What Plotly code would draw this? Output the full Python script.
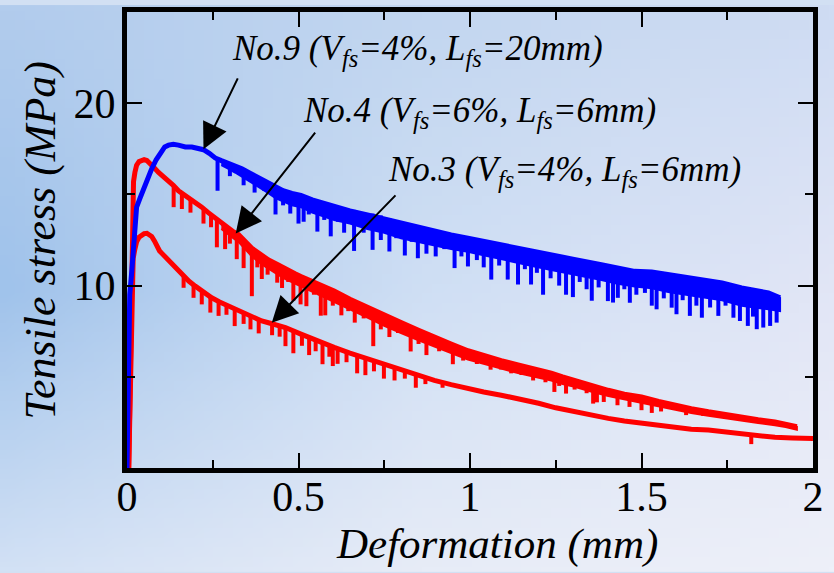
import plotly.graph_objects as go
import numpy as np
import zlib, struct, base64

# ---------------- data ----------------
# No.9 (blue) upper trace
n9_x = [0, 0.002, 0.004, 0.008, 0.014, 0.02, 0.028, 0.038, 0.048, 0.06, 0.072, 0.085, 0.097, 0.11,
        0.121, 0.135, 0.15, 0.17, 0.189, 0.205, 0.223, 0.24, 0.257, 0.275, 0.296, 0.315, 0.335,
        0.36, 0.384, 0.41, 0.433, 0.455, 0.481, 0.507, 0.54, 0.604, 0.65, 0.701, 0.75, 0.799,
        0.85, 0.896, 0.945, 0.994, 1.04, 1.091, 1.14, 1.188, 1.237, 1.3, 1.383, 1.43, 1.48,
        1.53, 1.578, 1.63, 1.676, 1.735, 1.792, 1.83, 1.87, 1.904]
n9_y = [0, 3, 7.5, 9.5, 10.8, 12.5, 14.3, 14.8, 15.3, 15.9, 16.4, 16.9, 17.3, 17.6,
        17.7, 17.75, 17.7, 17.6, 17.6, 17.5, 17.45, 17.25, 17.0, 16.85, 16.7, 16.55, 16.4,
        16.15, 15.9, 15.65, 15.4, 15.2, 15.05, 14.95, 14.7, 14.32, 14.1, 13.87, 13.65, 13.41,
        13.2, 12.96, 12.78, 12.6, 12.42, 12.24, 12.05, 11.87, 11.69, 11.45, 11.15, 10.95, 10.78,
        10.75, 10.6, 10.48, 10.33, 10.15, 9.87, 9.72, 9.6, 9.33]
# lower edge of the dense (solid-looking) part of the No.9 band, for the last points of n9_x
n9_lo = [16.6, 16.4, 16.2, 16.0, 15.7, 15.4, 15.1, 14.8, 14.6, 14.4,
         14.3, 14.0, 13.6, 13.4, 13.1, 12.9, 12.6, 12.4, 12.2, 12.0,
         11.85, 11.65, 11.45, 11.25, 11.05, 10.85, 10.6, 10.3, 10.1, 9.95,
         9.85, 9.65, 9.5, 9.35, 9.2, 8.9, 8.8, 8.7, 8.6]
# No.9 load drops: x, top, bottom
n9_dx = [0.264, 0.30, 0.34, 0.372, 0.40, 0.433, 0.455, 0.476, 0.50, 0.515, 0.53, 0.555, 0.575,
         0.594, 0.615, 0.633, 0.662, 0.69, 0.716, 0.74, 0.765, 0.785, 0.81, 0.83, 0.848, 0.873,
         0.90, 0.925, 0.955, 0.975, 0.994, 1.02, 1.04, 1.062, 1.085, 1.11, 1.14, 1.16, 1.178,
         1.195, 1.213, 1.235, 1.26, 1.28, 1.30, 1.32, 1.34, 1.355, 1.375, 1.402, 1.417, 1.431,
         1.45, 1.466, 1.485, 1.51, 1.53, 1.544, 1.565, 1.588, 1.602, 1.62, 1.641, 1.66, 1.676,
         1.70, 1.724, 1.745, 1.768, 1.787, 1.81, 1.825, 1.836, 1.855, 1.875, 1.894]
n9_dt = [17.0, 16.7, 16.35, 16.0, 15.8, 15.4, 15.2, 15.05, 14.95, 14.9, 14.8, 14.65, 14.55,
         14.45, 14.35, 14.27, 14.15, 14.0, 13.95, 13.85, 13.7, 13.5, 13.4, 13.3, 13.2, 13.05,
         12.95, 12.85, 12.75, 12.65, 12.6, 12.5, 12.4, 12.35, 12.25, 12.15, 12.05, 11.95, 11.9,
         11.85, 11.8, 11.7, 11.6, 11.5, 11.45, 11.35, 11.25, 11.2, 11.15, 11.05, 11.0, 10.95,
         10.9, 10.85, 10.78, 10.78, 10.75, 10.7, 10.65, 10.6, 10.55, 10.5, 10.45, 10.4, 10.33,
         10.25, 10.2, 10.1, 10.0, 9.9, 9.8, 9.75, 9.7, 9.65, 9.6, 9.45]
n9_db = [15.2, 16.0, 15.5, 15.1, 15.2, 13.9, 14.4, 13.95, 13.4, 13.5, 13.9, 12.96, 13.6,
         12.7, 13.5, 12.9, 11.9, 12.9, 11.96, 12.5, 11.87, 12.6, 11.65, 12.4, 11.5, 11.75,
         11.6, 12.0, 10.96, 11.6, 11.05, 11.4, 11.0, 10.33, 11.1, 10.33, 10.06, 10.9, 10.06,
         10.7, 9.5, 10.4, 10.0, 9.5, 9.37, 10.2, 9.8, 9.17, 9.9, 9.15, 9.07, 9.33,
         9.8, 9.06, 9.5, 9.6, 8.9, 8.7, 9.3, 8.79, 8.43, 9.2, 8.34, 8.9, 8.24,
         8.8, 8.34, 8.9, 8.24, 8.06, 7.79, 8.3, 7.61, 7.7, 7.79, 7.97]

# No.4 (red, upper red curve)
n4_x = [0.005, 0.008, 0.012, 0.014, 0.016, 0.019, 0.023, 0.028, 0.035, 0.043, 0.05, 0.058, 0.065,
        0.072, 0.082, 0.092, 0.105, 0.121, 0.135, 0.15, 0.165, 0.179, 0.2, 0.218, 0.237, 0.257,
        0.275, 0.296, 0.31, 0.325, 0.345, 0.364, 0.39, 0.413, 0.44, 0.462, 0.49, 0.507, 0.52,
        0.559, 0.604, 0.65, 0.701, 0.75, 0.799, 0.85, 0.896, 0.945, 0.994, 1.04, 1.091, 1.14,
        1.188, 1.237, 1.27, 1.305, 1.35, 1.403, 1.45, 1.5, 1.55, 1.597, 1.645, 1.695, 1.745,
        1.792, 1.84, 1.889, 1.92, 1.953]
n4_y = [0, 4, 9, 12.96, 14.5, 15.7, 16.2, 16.6, 16.8, 16.86, 16.9, 16.86, 16.75,
        16.6, 16.4, 16.2, 16.0, 15.77, 15.5, 15.2, 15.0, 14.86, 14.6, 14.3, 14.0, 13.7,
        13.4, 13.1, 12.95, 12.8, 12.4, 12.05, 11.7, 11.4, 11.15, 10.9, 10.65, 10.5, 10.4,
        10.07, 9.7, 9.25, 8.79, 8.35, 7.97, 7.55, 7.16, 6.8, 6.43, 6.15, 5.89, 5.65,
        5.44, 5.2, 5.0, 4.8, 4.55, 4.26, 4.05, 3.9, 3.65, 3.44, 3.25, 3.08, 2.92,
        2.77, 2.65, 2.53, 2.42, 2.26]
# lower edge of the dense part of the No.4 band, for the last points of n4_x
n4_lo = [13.1, 12.8, 12.6, 12.4, 12.0, 11.6, 11.2, 10.9, 10.6, 10.35,
         10.1, 9.95, 9.85, 9.5, 9.1, 8.7, 8.25, 7.8, 7.4, 7.0,
         6.65, 6.3, 5.95, 5.7, 5.45, 5.2, 5.0, 4.8, 4.6, 4.45,
         4.2, 3.95, 3.75, 3.6, 3.38, 3.2, 3.02, 2.86, 2.72, 2.58,
         2.46, 2.35, 2.25, 2.1]
n4_dx = [0.136, 0.16, 0.185, 0.223, 0.245, 0.262, 0.286, 0.30, 0.32, 0.34, 0.364, 0.38, 0.393,
         0.41, 0.438, 0.452, 0.47, 0.485, 0.506, 0.523, 0.545, 0.565, 0.578, 0.60, 0.625, 0.645,
         0.664, 0.69, 0.718, 0.74, 0.765, 0.79, 0.827, 0.85, 0.873, 0.91, 0.95, 0.98, 1.02,
         1.06, 1.09, 1.12, 1.15, 1.184, 1.22, 1.246, 1.26, 1.28, 1.305, 1.34, 1.359, 1.37,
         1.39, 1.43, 1.465, 1.5, 1.53, 1.557, 1.63, 1.68]
n4_dt = [15.45, 15.1, 14.8, 14.25, 13.9, 13.6, 13.25, 13.05, 12.85, 12.5, 12.05, 11.85, 11.65,
         11.45, 11.15, 11.0, 10.85, 10.7, 10.5, 10.35, 10.2, 10.0, 9.9, 9.72, 9.5, 9.3,
         9.1, 8.9, 8.65, 8.45, 8.25, 8.05, 7.75, 7.55, 7.35, 7.05, 6.75, 6.55, 6.3,
         6.05, 5.9, 5.75, 5.6, 5.45, 5.3, 5.15, 5.07, 4.95, 4.8, 4.6, 4.5, 4.45,
         4.33, 4.15, 4.0, 3.9, 3.75, 3.62, 3.3, 3.13]
n4_db = [14.3, 14.2, 14.0, 13.4, 13.2, 12.1, 12.0, 12.3, 11.45, 10.96, 9.42, 11.0, 10.36,
         10.6, 10.16, 9.87, 10.2, 9.17, 8.97, 8.87, 9.5, 8.35, 8.37, 8.9, 8.37, 8.6,
         7.97, 8.2, 6.68, 7.6, 7.18, 7.4, 6.39, 6.8, 6.19, 6.4, 5.69, 5.89, 5.7,
         5.39, 5.4, 5.19, 5.1, 4.80, 4.7, 4.17, 4.5, 4.08, 4.3, 4.1, 3.53, 3.6,
         3.62, 3.44, 3.35, 3.17, 3.02, 3.1, 2.9, 2.85]

# No.3 (red, lower red curve)
n3_x = [0.005, 0.008, 0.011, 0.014, 0.018, 0.023, 0.028, 0.035, 0.043, 0.05, 0.058, 0.065, 0.072,
        0.08, 0.087, 0.095, 0.101, 0.115, 0.131, 0.145, 0.16, 0.18, 0.199, 0.222, 0.247, 0.27,
        0.296, 0.32, 0.345, 0.37, 0.393, 0.415, 0.433, 0.462, 0.507, 0.555, 0.604, 0.65, 0.701,
        0.75, 0.799, 0.85, 0.896, 0.945, 0.994, 1.04, 1.091, 1.14, 1.2, 1.25, 1.305, 1.35,
        1.403, 1.45, 1.5, 1.55, 1.597, 1.645, 1.695, 1.745, 1.792, 1.84, 1.889, 1.94, 2.0]
n3_y = [0, 3, 6, 9, 11.5, 12.0, 12.4, 12.65, 12.78, 12.85, 12.87, 12.8, 12.69,
        12.45, 12.14, 11.9, 11.78, 11.5, 11.23, 10.9, 10.6, 10.25, 9.97, 9.65, 9.33, 9.1,
        8.88, 8.65, 8.43, 8.25, 8.06, 7.95, 7.88, 7.7, 7.34, 6.95, 6.61, 6.3, 5.98,
        5.65, 5.35, 5.05, 4.8, 4.57, 4.35, 4.17, 3.99, 3.8, 3.55, 3.3, 3.08, 2.9,
        2.72, 2.58, 2.45, 2.3, 2.18, 2.12, 2.08, 1.98, 1.9, 1.78, 1.68, 1.65, 1.62]
n3_dx = [0.165, 0.194, 0.218, 0.243, 0.267, 0.29, 0.314, 0.34, 0.36, 0.384, 0.423, 0.445, 0.462,
         0.485, 0.51, 0.531, 0.55, 0.57, 0.59, 0.60, 0.614, 0.64, 0.671, 0.695, 0.72, 0.749,
         0.78, 0.81, 0.842, 0.87, 0.92, 1.82]
n3_dt = [10.5, 10.05, 9.7, 9.38, 9.12, 8.93, 8.7, 8.47, 8.32, 8.12, 7.9, 7.8, 7.7,
         7.5, 7.3, 7.15, 7.0, 6.85, 6.7, 6.63, 6.55, 6.35, 6.15, 6.0, 5.85, 5.65,
         5.45, 5.3, 5.1, 4.95, 4.7, 1.87]
n3_db = [9.88, 9.33, 8.97, 8.52, 8.34, 8.4, 7.78, 7.9, 7.6, 7.38, 7.28, 7.2, 6.68,
         6.29, 6.7, 6.19, 6.4, 5.69, 6.1, 5.59, 5.71, 5.8, 5.19, 5.09, 5.3, 4.9,
         4.8, 4.9, 4.4, 4.6, 4.4, 1.31]

x_ticks = [0, 0.5, 1, 1.5, 2]
x_tick_text = ["0", "0.5", "1", "1.5", "2"]
y_ticks = [10, 20]
y_tick_text = ["10", "20"]

labels = ["<i>No.9 (V<sub>fs</sub>=4%, L<sub>fs</sub>=20mm)</i>",
          "<i>No.4 (V<sub>fs</sub>=6%, L<sub>fs</sub>=6mm)</i>",
          "<i>No.3 (V<sub>fs</sub>=4%, L<sub>fs</sub>=6mm)</i>"]

# ---------------- layout constants ----------------
W, H = 834, 573
ML, MR, MT, MB = 127, 21, 7, 105
PW, PH = W - ML - MR, H - MT - MB
FONT = "Liberation Serif"
RED, BLUE = "#ff0000", "#0000ff"


def make_bg():
    # soft blue backdrop, like the blurred photo behind the original chart
    ctrl = np.array([
        [[178, 204, 237], [194, 214, 240], [207, 220, 243]],
        [[160, 195, 235], [207, 223, 244], [226, 230, 246]],
        [[210, 225, 245], [231, 236, 247], [238, 240, 249]],
    ], dtype=float)
    w, h = 84, 58
    out = np.zeros((h, w, 3))
    for j in range(h):
        v = j / (h - 1) * 2
        j0 = min(int(v), 1); fv = v - j0
        for i in range(w):
            u = i / (w - 1) * 2
            i0 = min(int(u), 1); fu = u - i0
            out[j, i] = (ctrl[j0, i0] * (1 - fu) * (1 - fv) + ctrl[j0, i0 + 1] * fu * (1 - fv)
                         + ctrl[j0 + 1, i0] * (1 - fu) * fv + ctrl[j0 + 1, i0 + 1] * fu * fv)
    out = out.astype(np.uint8)
    raw = b"".join(b"\x00" + out[j].tobytes() for j in range(h))

    def chunk(t, d):
        return struct.pack(">I", len(d)) + t + d + struct.pack(">I", zlib.crc32(t + d) & 0xffffffff)
    png = (b"\x89PNG\r\n\x1a\n" + chunk(b"IHDR", struct.pack(">IIBBBBB", w, h, 8, 2, 0, 0, 0))
           + chunk(b"IDAT", zlib.compress(raw)) + chunk(b"IEND", b""))
    return "data:image/png;base64," + base64.b64encode(png).decode()


def drops(dx, dt, db):
    xs, ys = [], []
    for x, t, b in zip(dx, dt, db):
        xs += [x, x, None]
        ys += [t, b, None]
    return xs, ys


def band(cx, cy, lo):
    k = len(cx) - len(lo)
    bx = list(cx[k:]) + list(cx[k:])[::-1]
    by = list(cy[k:]) + list(lo)[::-1]
    return bx, by


fig = go.Figure()
for (cx, cy, lo, dx, dt, db, col, lw) in [
    (n3_x, n3_y, None, n3_dx, n3_dt, n3_db, RED, 5),
    (n4_x, n4_y, n4_lo, n4_dx, n4_dt, n4_db, RED, 5),
    (n9_x, n9_y, n9_lo, n9_dx, n9_dt, n9_db, BLUE, 5),
]:
    if lo is not None:
        bx, by = band(cx, cy, lo)
        fig.add_trace(go.Scatter(x=bx, y=by, mode="lines", fill="toself", fillcolor=col,
                                 line=dict(color=col, width=2), showlegend=False, hoverinfo="skip"))
    sx, sy = drops(dx, dt, db)
    fig.add_trace(go.Scatter(x=sx, y=sy, mode="lines", line=dict(color=col, width=4),
                             showlegend=False, hoverinfo="skip"))
    fig.add_trace(go.Scatter(x=cx, y=cy, mode="lines", line=dict(color=col, width=lw),
                             showlegend=False))

# arrows (tip -> tail in data coords) and labels
arrows = [
    (0.223, 17.47, 0.325, 21.44),
    (0.317, 12.85, 0.552, 18.47),
    (0.422, 7.96, 0.787, 15.03),
]
for (tx, ty, axx, ayy) in arrows:
    fig.add_annotation(x=tx, y=ty, ax=axx, ay=ayy, xref="x", yref="y", axref="x", ayref="y",
                       text="", showarrow=True, arrowhead=2, arrowsize=2.6, arrowwidth=2,
                       arrowcolor="black")
label_pos = [(0.299, 22.9), (0.506, 19.5), (0.755, 16.25)]
for (lx, ly), txt in zip(label_pos, labels):
    fig.add_annotation(x=lx, y=ly, xref="x", yref="y", text=txt, showarrow=False,
                       xanchor="left", yanchor="middle",
                       font=dict(family=FONT, size=35, color="black"))

# axis titles
fig.add_annotation(x=(497 - ML) / PW, y=-(545 - MT - PH) / PH, xref="paper", yref="paper",
                   text="<i>Deformation (mm)</i>", showarrow=False, xanchor="center", yanchor="middle",
                   font=dict(family=FONT, size=43, color="black"))
fig.add_annotation(x=(40 - ML) / PW, y=1 - (238 - MT) / PH, xref="paper", yref="paper",
                   text="<i>Tensile stress (MPa)</i>", showarrow=False, textangle=-90,
                   xanchor="center", yanchor="middle",
                   font=dict(family=FONT, size=44, color="black"))

axis_common = dict(showline=True, linewidth=5, linecolor="black", mirror="ticks",
                   ticks="inside", ticklen=15, tickwidth=2, tickcolor="black",
                   showgrid=False, zeroline=False,
                   tickfont=dict(family=FONT, size=42, color="black"))
fig.update_xaxes(range=[0, 2], tickvals=x_ticks, ticktext=x_tick_text, ticklabelstandoff=-12,
                 minor=dict(dtick=0.25, ticks="inside", ticklen=8, tickwidth=2, tickcolor="black"),
                 **axis_common)
fig.update_yaxes(range=[0, 25], tickvals=y_ticks, ticktext=y_tick_text, ticklabelstandoff=-2,
                 minor=dict(dtick=5, ticks="inside", ticklen=8, tickwidth=2, tickcolor="black"),
                 **axis_common)

fig.update_layout(
    width=W, height=H, autosize=False,
    margin=dict(l=ML, r=MR, t=MT, b=MB),
    paper_bgcolor="#d2e0f3", plot_bgcolor="rgba(0,0,0,0)",
    showlegend=False,
    images=[dict(source=make_bg(), xref="paper", yref="paper",
                 x=-ML / PW, y=1 + MT / PH, sizex=W / PW, sizey=H / PH,
                 xanchor="left", yanchor="top", sizing="stretch", layer="below")],
)

fig.write_html("out.html", config={"displayModeBar": False},
               post_script="document.body.style.margin='0';document.body.style.overflow='hidden';")
